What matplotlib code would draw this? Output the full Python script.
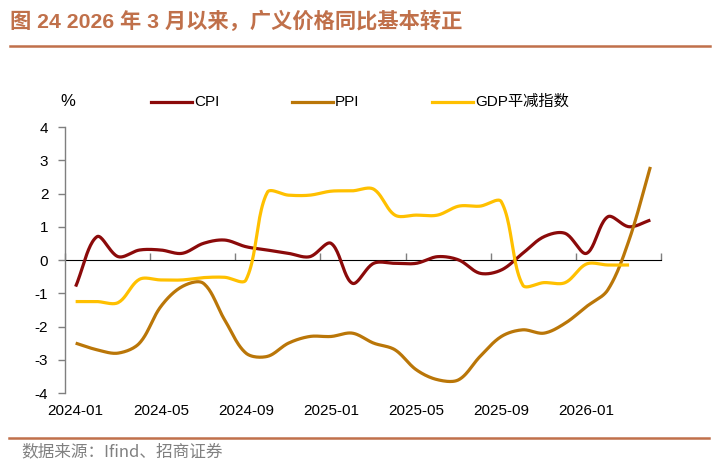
import numpy as np
import matplotlib
matplotlib.use("Agg")
import matplotlib.pyplot as plt
from matplotlib.lines import Line2D

plt.rcParams['font.family'] = ['Liberation Sans', 'Noto Sans CJK SC', 'DejaVu Sans']
plt.rcParams['axes.unicode_minus'] = False

months = ['2024-01', '2024-02', '2024-03', '2024-04', '2024-05', '2024-06', '2024-07',
          '2024-08', '2024-09', '2024-10', '2024-11', '2024-12',
          '2025-01', '2025-02', '2025-03', '2025-04', '2025-05', '2025-06', '2025-07',
          '2025-08', '2025-09', '2025-10', '2025-11', '2025-12',
          '2026-01', '2026-02', '2026-03', '2026-04']
cpi = [-0.8, 0.7, 0.1, 0.3, 0.3, 0.2, 0.5, 0.6, 0.4, 0.3, 0.2, 0.1,
       0.5, -0.7, -0.1, -0.1, -0.1, 0.1, 0.0, -0.4, -0.3, 0.2, 0.7, 0.8,
       0.2, 1.3, 1.0, 1.2]
ppi = [-2.5, -2.7, -2.8, -2.5, -1.4, -0.8, -0.7, -1.8, -2.8, -2.9, -2.5, -2.3,
       -2.3, -2.2, -2.5, -2.7, -3.3, -3.6, -3.6, -2.9, -2.3, -2.1, -2.2, -1.9,
       -1.4, -0.9, 0.6, 2.8]
gdp = [-1.25, -1.25, -1.28, -0.58, -0.6, -0.6, -0.53, -0.52, -0.6, 2.03, 1.95, 1.95,
       2.07, 2.08, 2.13, 1.35, 1.35, 1.35, 1.62, 1.62, 1.75, -0.75, -0.68, -0.68,
       -0.12, -0.15, -0.15]
tick_labels = ['2024-01', '2024-05', '2024-09', '2025-01', '2025-05', '2025-09', '2026-01']

title = '图 24 2026 年 3 月以来，广义价格同比基本转正'
source = '数据来源：Ifind、招商证券'
c_cpi, c_ppi, c_gdp = '#8B0A0A', '#BA7608', '#FFC000'
c_title = '#C0704A'
c_axis = '#7F7F7F'

PX_X, PX_Y = 21.29, 33.2   # screen scale used only for smoothing shape


def smooth(y, n=24):
    y = np.asarray(y, float)
    x = np.arange(len(y), dtype=float)
    pts = np.column_stack([x * PX_X, y * PX_Y])
    out = [pts[0]]
    m = len(pts)
    for i in range(m - 1):
        p0 = pts[i - 1] if i > 0 else pts[i]
        p1, p2 = pts[i], pts[i + 1]
        p3 = pts[i + 2] if i + 2 < m else pts[i + 1]
        d01 = np.linalg.norm(p1 - p0)
        d12 = np.linalg.norm(p2 - p1)
        d23 = np.linalg.norm(p3 - p2)
        f1 = d12 / (d01 + d12) if d01 + d12 > 0 else 0
        f2 = d12 / (d12 + d23) if d12 + d23 > 0 else 0
        c1 = p1 + (p2 - p0) * f1 / 3.0
        c2 = p2 - (p3 - p1) * f2 / 3.0
        t = np.linspace(0, 1, n)[1:, None]
        seg = ((1 - t) ** 3) * p1 + 3 * ((1 - t) ** 2) * t * c1 + 3 * (1 - t) * t ** 2 * c2 + t ** 3 * p2
        out.extend(seg)
    out = np.array(out)
    return out[:, 0] / PX_X, out[:, 1] / PX_Y


fig = plt.figure(figsize=(7.23, 4.65), dpi=100)
ax = fig.add_axes([65 / 723, 1 - 393 / 465, (661 - 65) / 723, (393 - 127) / 465])

lw = 2.3
for data, col in [(cpi, c_cpi), (ppi, c_ppi), (gdp, c_gdp)]:
    sx, sy = smooth(data)
    ax.plot(sx, sy, color=col, lw=lw, solid_capstyle='butt', zorder=3)

ax.set_xlim(-0.5, len(months) - 0.5)
ax.set_ylim(-4, 4)
ax.set_yticks(range(-4, 5))
ax.set_yticklabels([str(v) for v in range(-4, 5)])

for s in ['top', 'right', 'bottom']:
    ax.spines[s].set_visible(False)
ax.spines['left'].set_color(c_axis)
ax.spines['left'].set_linewidth(1.0)
ax.tick_params(axis='y', direction='out', length=5, width=1.0, color=c_axis,
               labelsize=11, labelcolor='black', pad=7)

ax.set_xticks([months.index(m) for m in tick_labels])
ax.set_xticklabels(tick_labels)
ax.tick_params(axis='x', length=0, labelsize=11, labelcolor='black', pad=8)

sec = ax.secondary_xaxis(0.5)
sec.set_xticks(np.arange(-0.5, len(months), 4))
sec.set_xticklabels([])
sec.spines['bottom'].set_color(c_axis)
sec.spines['bottom'].set_linewidth(1.0)
sec.tick_params(direction='out', length=5, width=1.0, color=c_axis)

fig.text(60 / 723, 1 - 102 / 465, '%', fontsize=12, va='center', ha='left')
leg = [('CPI', c_cpi, 151), ('PPI', c_ppi, 292), ('GDP平减指数', c_gdp, 432)]
for lab, col, x0 in leg:
    y = 1 - 102 / 465
    fig.add_artist(Line2D([x0 / 723, (x0 + 41) / 723], [y, y], color=col, lw=lw,
                          transform=fig.transFigure))
    fig.text((x0 + 43) / 723, y, lab, fontsize=11, va='center', ha='left')

fig.text(10 / 723, 1 - 21 / 465, title, fontsize=15.3, fontweight='bold', color=c_title,
         va='center', ha='left', family=['Liberation Sans', 'Noto Sans CJK SC'])
fig.add_artist(Line2D([10 / 723, 710 / 723], [1 - 46 / 465, 1 - 46 / 465], color=c_title,
                      lw=1.8, transform=fig.transFigure))
fig.add_artist(Line2D([9 / 723, 709 / 723], [1 - 438 / 465, 1 - 438 / 465], color=c_title,
                      lw=1.8, transform=fig.transFigure))
fig.text(21 / 723, 1 - 452 / 465, source, fontsize=12, color='#808080', va='center', ha='left',
         family=['Noto Sans CJK SC', 'Liberation Sans'])

fig.savefig('out.png', dpi=100)
